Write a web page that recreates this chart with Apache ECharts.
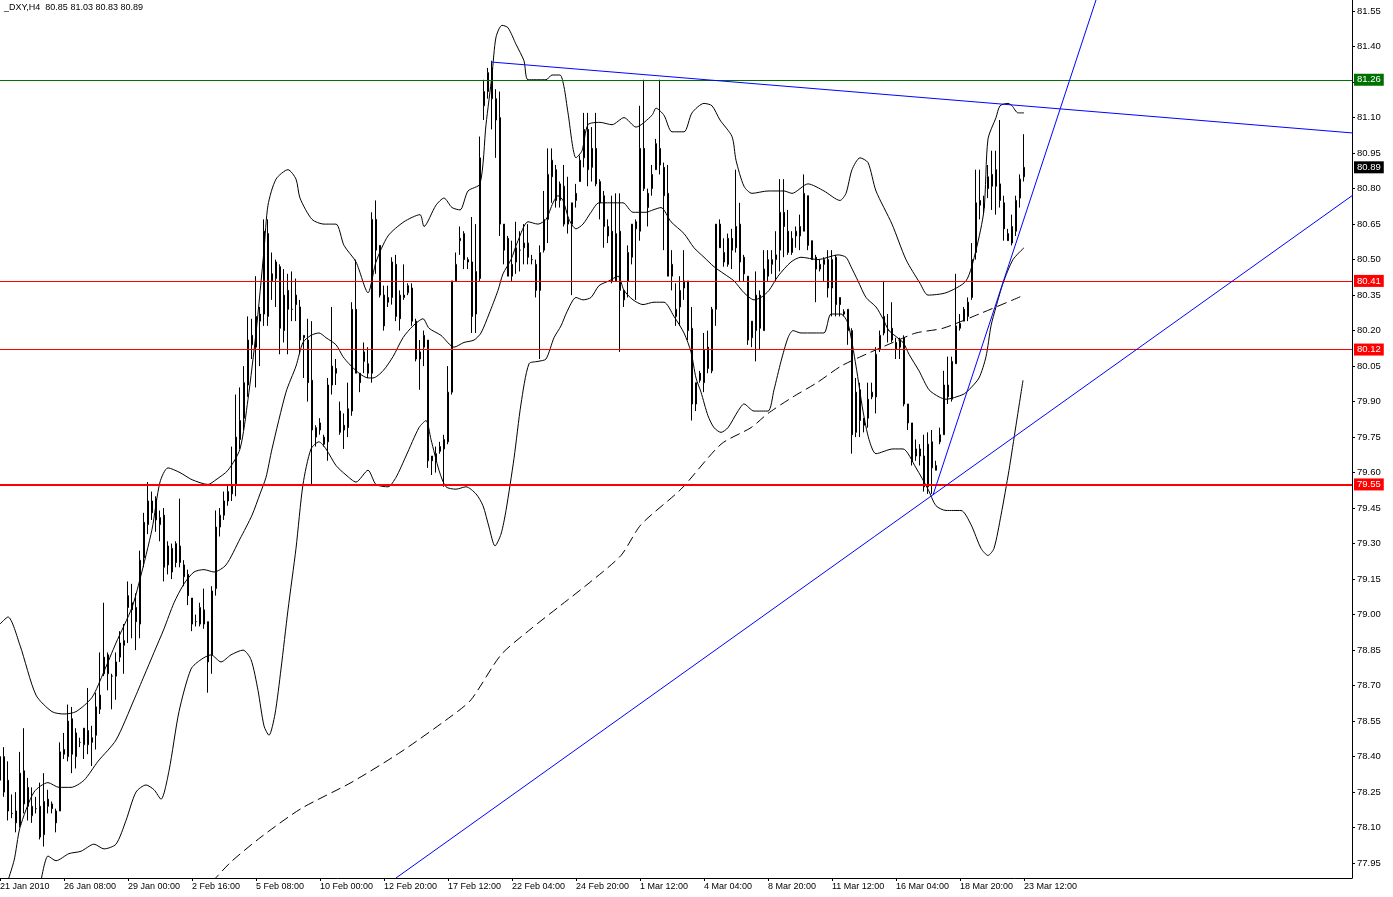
<!DOCTYPE html>
<html>
<head>
<meta charset="utf-8">
<script src="https://cdn.jsdelivr.net/npm/echarts@6/dist/echarts.min.js"></script>
<style>
  html, body { margin: 0; padding: 0; background: #fff; }
  #chart { width: 1393px; height: 897px; }
</style>
</head>
<body>
<div id="chart"></div>
<script>
// _DXY H4 bars, one value per bar (bar index = position in the array)
const open = [
  78.30,78.25,78.30,78.16,78.17,78.11,78.34,78.19,78.15,78.18,78.19,78.07,78.22,78.20,78.12,78.17,
  78.43,78.40,78.56,78.40,78.46,78.45,78.51,78.46,78.49,78.60,78.75,78.83,78.74,78.74,78.82,78.87,
  79.08,79.05,79.03,78.96,79.24,79.38,79.43,79.49,79.38,79.42,79.21,79.28,79.22,79.29,79.21,79.17,
  79.07,78.97,78.96,79.02,78.97,78.83,79.11,79.37,79.42,79.48,79.51,79.55,79.74,79.83,79.97,80.18,
  80.13,80.24,80.27,80.61,80.44,80.42,80.47,80.20,80.37,80.29,80.35,80.30,80.17,80.16,79.99,79.79,
  79.78,79.75,79.73,79.97,80.04,79.86,79.78,79.79,79.86,80.29,80.02,80.11,80.06,80.02,80.67,80.56,
  80.35,80.32,80.34,80.48,80.25,80.34,80.36,80.38,80.24,80.08,80.13,80.16,79.67,79.65,79.69,79.70,
  79.73,79.94,80.41,80.58,80.61,80.50,80.49,80.27,80.42,81.15,81.21,81.31,81.18,81.10,80.65,80.59,
  80.43,80.49,80.54,80.55,80.57,80.50,80.48,80.37,80.54,80.67,80.85,80.88,80.75,80.81,80.65,80.65,
  80.75,80.83,80.93,81.05,80.89,80.97,80.83,80.77,80.60,80.62,80.41,80.62,80.37,80.41,80.51,80.66,
  80.62,80.97,80.78,80.80,80.88,80.97,80.89,80.78,80.43,80.26,80.30,80.38,80.41,80.21,79.89,80.02,
  79.98,80.04,80.03,80.29,80.65,80.53,80.48,80.59,80.55,80.65,80.51,80.43,80.17,80.20,80.35,80.20,
  80.43,80.48,80.50,80.54,80.70,80.62,80.53,80.60,80.60,80.62,80.77,80.58,80.51,80.48,80.48,80.50,
  80.38,80.51,80.34,80.28,80.29,80.20,79.77,79.95,79.83,79.83,79.92,79.92,80.12,80.19,80.20,80.21,
  80.15,80.13,80.17,79.89,79.81,79.70,79.70,79.67,79.54,79.73,79.61,79.73,79.76,79.97,79.91,80.06,
  80.23,80.29,80.26,80.34,80.53,80.75,80.74,80.85,80.81,80.88,80.82,80.74,80.61,80.57,80.62,80.76,80.85
];
const high = [
  78.44,78.44,78.38,78.24,78.25,78.42,78.52,78.31,78.27,78.23,78.29,78.33,78.26,78.21,78.18,78.46,
  78.50,78.62,78.61,78.52,78.48,78.52,78.69,78.53,78.67,78.84,79.05,78.84,78.75,78.84,78.93,78.96,
  79.14,79.13,79.09,79.27,79.43,79.56,79.52,79.50,79.44,79.45,79.31,79.30,79.31,79.49,79.23,79.19,
  79.07,79.00,79.05,79.11,78.97,79.12,79.44,79.45,79.52,79.55,79.71,79.93,79.96,80.05,80.26,80.25,
  80.43,80.30,80.67,80.67,80.53,80.50,80.48,80.46,80.44,80.45,80.42,80.33,80.18,80.25,80.24,79.80,
  79.83,79.76,80.00,80.30,80.08,79.90,79.85,79.98,80.32,80.50,80.02,80.15,80.13,80.70,80.75,80.56,
  80.39,80.39,80.51,80.52,80.37,80.48,80.40,80.40,80.25,80.16,80.20,80.16,79.67,79.71,79.73,79.76,
  80.05,80.41,80.53,80.64,80.62,80.51,80.68,80.65,81.02,81.26,81.31,81.34,81.22,81.21,80.65,80.60,
  80.58,80.66,80.62,80.65,80.65,80.52,80.50,80.56,80.79,80.97,80.97,80.90,80.83,80.90,80.85,80.74,
  80.82,80.94,81.12,81.12,81.06,81.12,80.84,80.79,80.67,80.77,80.78,80.78,80.37,80.56,80.65,80.67,
  81.15,81.26,80.80,80.90,81.01,81.26,80.91,80.90,80.54,80.40,80.43,80.54,80.41,80.30,79.98,80.03,
  80.19,80.20,80.30,80.65,80.67,80.59,80.61,80.63,80.88,80.74,80.52,80.43,80.24,80.45,80.37,80.54,
  80.54,80.54,80.62,80.84,80.84,80.71,80.62,80.64,80.69,80.86,80.77,80.58,80.52,80.50,80.51,80.54,
  80.54,80.52,80.34,80.29,80.29,80.21,80.00,79.98,79.83,79.98,79.98,80.13,80.20,80.41,80.27,80.32,
  80.17,80.17,80.18,79.89,79.81,79.74,79.72,79.76,79.77,79.78,79.65,79.79,80.03,80.09,80.09,80.44,
  80.27,80.30,80.34,80.57,80.88,80.88,80.77,80.90,80.96,80.96,81.09,80.77,80.63,80.69,80.77,80.86,81.03
];
const low = [
  78.22,78.23,78.13,78.14,78.08,78.10,78.16,78.13,78.12,78.16,78.05,78.02,78.16,78.16,78.08,78.17,
  78.39,78.38,78.33,78.35,78.44,78.39,78.41,78.36,78.43,78.58,78.74,78.68,78.60,78.64,78.80,78.75,
  78.88,78.90,78.85,78.90,79.20,79.34,79.40,79.35,79.31,79.14,79.17,79.15,79.20,79.20,79.12,79.04,
  78.93,78.95,78.95,78.94,78.67,78.75,79.08,79.33,79.40,79.46,79.48,79.50,79.70,79.78,79.92,80.08,
  79.96,80.05,80.22,80.22,80.33,80.30,80.10,80.15,80.10,80.24,80.24,80.10,80.00,79.90,79.55,79.71,
  79.76,79.71,79.65,79.93,79.97,79.76,79.70,79.75,79.84,80.02,79.94,80.02,80.00,79.98,80.44,80.34,
  80.20,80.30,80.31,80.24,80.20,80.33,80.35,80.22,80.07,79.95,80.05,79.62,79.59,79.60,79.68,79.54,
  79.72,79.93,80.41,80.52,80.46,80.46,80.19,80.19,80.41,81.09,81.18,81.05,80.93,80.60,80.48,80.43,
  80.41,80.44,80.45,80.48,80.48,80.48,80.34,80.08,80.53,80.57,80.74,80.72,80.72,80.64,80.61,80.35,
  80.72,80.83,80.89,80.81,80.83,80.81,80.67,80.55,80.57,80.40,80.41,80.11,80.30,80.34,80.48,80.33,
  80.58,80.79,80.64,80.77,80.88,80.86,80.54,80.43,80.37,80.22,80.22,80.33,80.16,79.82,79.86,79.98,
  79.94,80.02,80.02,80.22,80.55,80.47,80.47,80.46,80.53,80.41,80.41,80.14,80.13,80.07,80.12,80.20,
  80.41,80.44,80.41,80.45,80.51,80.52,80.52,80.55,80.54,80.62,80.54,80.50,80.32,80.45,80.41,80.34,
  80.26,80.26,80.26,80.26,80.14,79.68,79.75,79.75,79.77,79.79,79.91,79.85,80.11,80.18,80.15,80.15,
  80.08,80.08,79.88,79.78,79.63,79.65,79.63,79.52,79.51,79.51,79.61,79.72,79.76,79.89,79.90,80.06,
  80.20,80.24,80.24,80.33,80.50,80.67,80.69,80.76,80.71,80.69,80.72,80.58,80.58,80.56,80.60,80.72,80.83
];
const close = [
  78.40,78.40,78.17,78.16,78.12,78.33,78.20,78.27,78.19,78.18,78.06,78.21,78.19,78.18,78.17,78.42,
  78.41,78.55,78.41,78.50,78.46,78.52,78.45,78.48,78.61,78.66,78.82,78.75,78.74,78.80,78.88,78.89,
  79.03,79.02,78.97,79.23,79.39,79.48,79.48,79.40,79.41,79.20,79.29,79.18,79.30,79.22,79.16,79.08,
  78.96,78.97,79.03,78.96,78.80,79.10,79.37,79.42,79.48,79.52,79.55,79.75,79.82,79.98,80.16,80.14,
  80.26,80.27,80.62,80.26,80.41,80.49,80.21,80.35,80.29,80.29,80.31,80.16,80.18,79.98,79.78,79.75,
  79.81,79.72,79.97,80.05,80.02,79.77,79.80,79.87,80.29,80.02,79.98,80.07,80.02,80.67,80.54,80.35,
  80.22,80.34,80.49,80.26,80.35,80.35,80.39,80.24,80.08,80.11,80.18,79.65,79.65,79.68,79.71,79.74,
  79.94,80.41,80.48,80.59,80.50,80.49,80.26,80.45,80.93,81.21,81.29,81.18,81.09,80.65,80.54,80.43,
  80.48,80.55,80.54,80.57,80.51,80.50,80.37,80.53,80.67,80.86,80.92,80.75,80.82,80.65,80.67,80.74,
  80.78,80.92,81.05,80.88,80.97,80.82,80.74,80.64,80.64,80.41,80.61,80.37,80.33,80.53,80.65,80.63,
  80.97,80.80,80.72,80.86,80.99,80.90,80.77,80.43,80.48,80.29,80.37,80.41,80.20,79.89,79.98,79.99,
  80.12,80.13,80.29,80.65,80.55,80.49,80.59,80.54,80.64,80.49,80.44,80.16,80.24,80.35,80.21,80.46,
  80.50,80.50,80.52,80.70,80.64,80.53,80.59,80.62,80.64,80.78,80.56,80.50,80.46,80.46,80.50,80.38,
  80.50,80.31,80.31,80.27,80.20,79.76,79.94,79.82,79.80,79.91,79.94,80.10,80.18,80.26,80.20,80.16,
  80.12,80.16,79.89,79.81,79.65,79.67,79.67,79.54,79.72,79.62,79.63,79.76,79.97,79.92,80.07,80.22,
  80.21,80.24,80.32,80.50,80.74,80.73,80.72,80.80,80.86,80.81,80.75,80.63,80.58,80.64,80.75,80.84,80.89
];

// Bollinger bands and long MA as [bar index, price]
const upperBand = [
  [0,78.96],[2,78.99],[5,78.87],[9,78.66],[13,78.59],[16,78.58],[19,78.59],[23,78.65],[26,78.76],[29,78.88],
  [33,79.03],[35,79.15],[38,79.36],[40,79.56],[42,79.62],[45,79.60],[48,79.57],[52,79.55],[54,79.57],[57,79.61],
  [60,79.70],[62,79.91],[64,80.19],[66,80.54],[67,80.73],[69,80.84],[72,80.88],[74,80.84],[75,80.76],[78,80.67],
  [81,80.65],[84,80.65],[86,80.56],[89,80.49],[92,80.36],[94,80.49],[97,80.60],[101,80.66],[105,80.69],[106,80.64],
  [109,80.73],[111,80.76],[113,80.72],[115,80.71],[117,80.79],[120,80.82],[121.5,81.07],[123,81.28],[124,81.44],[125.5,81.49],
  [127,81.48],[129,81.41],[131,81.34],[132,81.26],[136.5,81.26],[138,81.28],[140,81.28],[141,81.23],[142,81.12],[144,80.93],
  [145.5,80.96],[147,81.07],[150,81.08],[153,81.07],[156,81.10],[159,81.06],[163,81.11],[164,81.14],[166,81.11],[168,81.04],
  [171,81.04],[173,81.12],[176,81.16],[178,81.15],[180,81.09],[183,81.02],[184,80.92],[186,80.81],[188,80.78],[192,80.79],
  [196,80.79],[198,80.78],[202,80.82],[206,80.79],[210,80.75],[211.5,80.78],[213,80.88],[215,80.93],[217,80.91],[219,80.79],
  [223,80.65],[226.5,80.50],[230,80.40],[232,80.35],[236.5,80.36],[241.5,80.41],[244,80.54],[246,80.71],[247,81.01],[249,81.10],
  [250,81.15],[252,81.16],[253,81.15],[254.5,81.12],[256,81.12]
];
const middleBand = [
  [0.5,77.80],[3.5,77.96],[5,78.10],[8.5,78.25],[12,78.29],[14.75,78.27],[17.75,78.27],[21,78.30],[24.5,78.38],[29,78.47],
  [33.5,78.64],[36,78.74],[38.5,78.84],[41,78.94],[43.5,79.05],[46,79.13],[48.5,79.18],[51,79.19],[53.5,79.18],[56.5,79.21],
  [60,79.32],[63,79.42],[65,79.51],[66.5,79.58],[68,79.70],[71.5,79.94],[74,80.05],[75.75,80.15],[77.75,80.18],[79.75,80.19],
  [81.5,80.17],[84,80.14],[85.75,80.09],[87.25,80.06],[89.75,80.02],[92,80.00],[93.25,80.00],[95.75,80.03],[98.25,80.09],[100.75,80.17],
  [103.25,80.22],[105.75,80.25],[107.25,80.21],[110.25,80.18],[113.5,80.13],[116,80.15],[118.5,80.16],[120.25,80.19],[122.25,80.27],[124.5,80.37],
  [125.75,80.44],[127.75,80.50],[129.5,80.58],[132,80.66],[134.5,80.65],[136.5,80.67],[138.25,80.74],[139.5,80.77],[140.75,80.75],[142.25,80.67],
  [144,80.63],[145.75,80.65],[147.75,80.70],[149.75,80.74],[154,80.74],[155.75,80.74],[158.25,80.70],[161.5,80.70],[163.25,80.71],[165.25,80.72],
  [167.75,80.66],[171,80.61],[173.5,80.55],[176,80.51],[178.5,80.47],[181,80.44],[183.5,80.41],[186,80.36],[188.5,80.33],[190.25,80.34],
  [192.25,80.37],[194.5,80.43],[197.75,80.49],[200.25,80.51],[204.5,80.50],[209.5,80.52],[211.5,80.51],[212.75,80.47],[214.5,80.41],[216.5,80.34],
  [219,80.30],[220.75,80.25],[222.25,80.20],[225.75,80.15],[227.25,80.10],[229.75,80.03],[232.25,79.95],[234.75,79.92],[236.5,79.91],[240.75,79.93],
  [242.25,79.95],[244.75,80.00],[246.5,80.09],[247.75,80.22],[249,80.30],[250.75,80.40],[253.25,80.50],[256,80.55]
];
const lowerBand = [
  [10,77.85],[12,77.98],[14,77.96],[17.25,77.99],[20.25,78.00],[23.5,78.03],[26,78.01],[29,78.03],[31.5,78.13],[34,78.25],
  [36.5,78.28],[38.5,78.26],[40.25,78.22],[42.25,78.34],[44.75,78.59],[47.75,78.77],[50.25,78.81],[52.75,78.83],[55.25,78.80],[57.75,78.83],
  [60.75,78.85],[62.75,78.81],[64.5,78.68],[66,78.53],[67.25,78.49],[68.75,78.58],[70.25,78.77],[72,79.02],[74,79.28],[75.75,79.55],
  [77.75,79.70],[79.75,79.73],[81.5,79.70],[84,79.63],[86.5,79.59],[89,79.56],[92,79.61],[94,79.55],[97,79.54],[99,79.58],
  [101.5,79.67],[104.75,79.79],[106.5,79.82],[107.75,79.74],[109.75,79.61],[111.5,79.54],[114,79.53],[116.5,79.54],[119,79.51],[120.75,79.46],
  [122.25,79.37],[123.75,79.29],[125.25,79.34],[126.5,79.44],[128.5,79.66],[130.25,79.89],[132.25,80.06],[134.5,80.07],[136.5,80.08],[138.5,80.17],
  [140.25,80.22],[141.75,80.28],[144,80.34],[145.75,80.33],[147.75,80.34],[149.75,80.39],[152.25,80.41],[154.5,80.43],[156,80.37],[158.25,80.33],
  [160.75,80.31],[163.5,80.32],[166,80.32],[168.5,80.26],[171,80.19],[172.75,80.11],[174,80.00],[175.25,79.94],[177,79.84],[178.5,79.79],
  [180.25,79.77],[182,79.79],[184.5,79.86],[186,79.89],[188.5,79.86],[192,79.86],[193.5,79.95],[195.25,80.07],[197,80.17],[198.25,80.20],
  [200.25,80.19],[203.5,80.19],[206,80.19],[207.75,80.27],[210.25,80.27],[212,80.23],[214,80.05],[215.75,79.86],[217.25,79.74],[219,79.68],
  [223.25,79.70],[225.75,79.70],[229,79.62],[232,79.53],[234,79.46],[236.5,79.44],[240.25,79.44],[242.75,79.38],[245.25,79.28],[247,79.25],
  [248.5,79.28],[250.25,79.42],[252.25,79.61],[254,79.80],[255.75,79.99]
];
const longMA = [
  [53,77.87],[57.75,77.955],[65.25,78.06],[75.25,78.18],[87.75,78.29],[100.25,78.42],[112.75,78.57],[117.75,78.64],[125.25,78.83],[132.75,78.94],
  [140.25,79.04],[147.75,79.14],[155.25,79.25],[160.25,79.38],[170.25,79.53],[180.25,79.72],[187.75,79.79],[192,79.85],[198.25,79.92],[204.25,79.98],
  [210.25,80.05],[216.5,80.10],[223.25,80.15],[229,80.19],[235.75,80.21],[244.75,80.27],[253.25,80.33],[256,80.35]
];

// drawn trend lines (end points)
const resistLine = [[122.75, 81.335], [338.25, 81.035]];
const steepLine = [[233.25, 79.505], [274, 81.597]];
const supportLine = [[99, 77.887], [338.25, 80.773]];

// horizontal levels with their price boxes
const levels = [
  { value: 81.26, color: '#007000', width: 1 },
  { value: 80.41, color: '#ff0000', width: 1 },
  { value: 80.12, color: '#ff0000', width: 1 },
  { value: 79.55, color: '#ff0000', width: 2 }
];

const xTickIdx = [0, 16, 32, 48, 64, 80, 96, 112, 128, 144, 160, 176, 192, 208, 224, 240, 256];
const xTickLabels = ['21 Jan 2010', '26 Jan 08:00', '29 Jan 00:00', '2 Feb 16:00', '5 Feb 08:00',
  '10 Feb 00:00', '12 Feb 20:00', '17 Feb 12:00', '22 Feb 04:00', '24 Feb 20:00', '1 Mar 12:00',
  '4 Mar 04:00', '8 Mar 20:00', '11 Mar 12:00', '16 Mar 04:00', '18 Mar 20:00', '23 Mar 12:00'];
const yTicks = [77.95, 78.10, 78.25, 78.40, 78.55, 78.70, 78.85, 79.00, 79.15, 79.30, 79.45, 79.60, 79.75,
  79.90, 80.05, 80.20, 80.35, 80.50, 80.65, 80.80, 80.95, 81.10, 81.25, 81.40, 81.55];
const yMin = 77.887, yMax = 81.597;

const FONT = 'Liberation Sans';
const last = open.length - 1;

let candles = [];
for (let i = 0; i < open.length; i++) {
  candles.push([i, open[i], close[i], low[i], high[i]]);
}

let markData = levels.map(l => ({
  yAxis: l.value,
  lineStyle: { color: l.color, width: l.width, type: 'solid' },
  label: { backgroundColor: l.color }
}));
// current price box, no line
markData.push({
  yAxis: close[last],
  lineStyle: { color: 'rgba(0,0,0,0)', width: 0 },
  label: { backgroundColor: '#000' }
});

function bandLine(data, dashed) {
  return {
    type: 'line',
    data: data,
    smooth: 0.25,
    symbol: 'none',
    silent: true,
    lineStyle: { color: '#000', width: 1, type: dashed ? [10, 5] : 'solid' },
    z: 4
  };
}
function trendLine(data) {
  return {
    type: 'line',
    data: data,
    symbol: 'none',
    silent: true,
    lineStyle: { color: '#0000ff', width: 1 },
    z: 5
  };
}

let chart = echarts.init(document.getElementById('chart'));
let option = {
  animation: false,
  backgroundColor: '#fff',
  title: {
    text: '_DXY,H4  ' + [open[last], high[last], low[last], close[last]].map(v => v.toFixed(2)).join(' '),
    left: 4,
    top: 3,
    padding: 0,
    textStyle: { fontSize: 9, fontWeight: 'normal', color: '#000', fontFamily: FONT }
  },
  grid: { left: 0, top: 0, right: 41, bottom: 19, outerBoundsMode: 'none' },
  xAxis: {
    type: 'value',
    min: 0,
    max: 338,
    axisLine: { show: true, onZero: false, lineStyle: { color: '#000', width: 1 } },
    axisTick: { show: true, length: 3, customValues: xTickIdx, lineStyle: { color: '#000' } },
    axisLabel: {
      customValues: xTickIdx,
      formatter: v => xTickLabels[xTickIdx.indexOf(Math.round(v))] || '',
      align: 'left',
      margin: 4,
      color: '#000',
      fontSize: 9,
      fontFamily: FONT
    },
    splitLine: { show: false }
  },
  yAxis: {
    type: 'value',
    position: 'right',
    min: yMin,
    max: yMax,
    axisLine: { show: true, onZero: false, lineStyle: { color: '#000', width: 1 } },
    axisTick: { show: true, length: 3, customValues: yTicks, lineStyle: { color: '#000' } },
    axisLabel: {
      customValues: yTicks,
      formatter: v => v.toFixed(2),
      margin: 5,
      color: '#000',
      fontSize: 9.5,
      fontFamily: FONT
    },
    splitLine: { show: false }
  },
  series: [
    {
      type: 'candlestick',
      data: candles,
      encode: { x: 0, y: [1, 2, 3, 4] },
      barWidth: 2,
      itemStyle: {
        color: '#00ff00',
        color0: '#ff0000',
        borderColor: '#000',
        borderColor0: '#000',
        borderWidth: 1
      },
      markLine: {
        silent: true,
        symbol: ['none', 'none'],
        animation: false,
        label: {
          position: 'end',
          distance: 2,
          formatter: p => p.value.toFixed(2),
          color: '#fff',
          fontSize: 9.5,
          fontFamily: FONT,
          padding: [1, 3, 1, 3]
        },
        data: markData
      },
      z: 3
    },
    bandLine(upperBand),
    bandLine(middleBand),
    bandLine(lowerBand),
    bandLine(longMA, true),
    trendLine(resistLine),
    trendLine(steepLine),
    trendLine(supportLine)
  ]
};
chart.setOption(option);
</script>
</body>
</html>
